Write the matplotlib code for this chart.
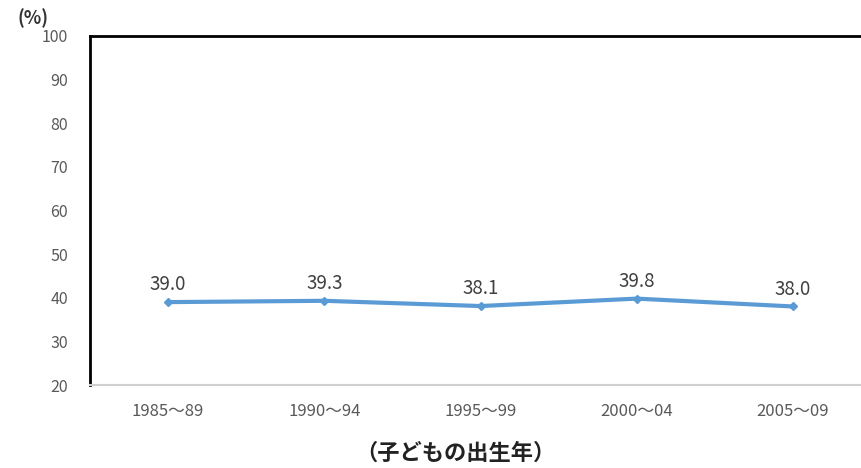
import matplotlib
matplotlib.use("Agg")
import matplotlib.pyplot as plt

plt.rcParams['font.family'] = ['Noto Sans CJK JP', 'DejaVu Sans']

# 子どもの出生年ごとの値（%）
periods = ["1985～89", "1990～94", "1995～99", "2000～04", "2005～09"]
values = [39.0, 39.3, 38.1, 39.8, 38.0]

fig = plt.figure(figsize=(8.61, 4.68), dpi=100)
ax = fig.add_axes([90 / 861, 1 - 385 / 468, 781 / 861, 349 / 468])

x = list(range(len(periods)))
ax.plot(x, values, color='#5B9BD5', linewidth=3, marker='D', markersize=4)

for xi, v in zip(x, values):
    ax.annotate(f"{v:.1f}", (xi, v), xytext=(0, 5), textcoords='offset points',
                ha='center', va='bottom', fontsize=13.5, color='#404040')

ax.set_xlim(-0.5, len(periods) - 0.5)
ax.set_ylim(20, 100)
ax.set_yticks(range(20, 101, 10))
ax.set_xticks(x)
ax.set_xticklabels(periods)
ax.tick_params(axis='y', length=0, labelsize=11.5, colors='#595959', pad=16)
ax.tick_params(axis='x', length=0, labelsize=12, colors='#595959', pad=13)

for side in ['top', 'left']:
    ax.spines[side].set_color('black')
    ax.spines[side].set_linewidth(2)
ax.spines['bottom'].set_color('#d0d0d0')
ax.spines['bottom'].set_linewidth(1.5)
ax.spines['right'].set_visible(False)

fig.text(33 / 861, 1 - 18 / 468, "(%)", fontsize=13, fontweight='bold',
         color='#333333', ha='center', va='center')
fig.text(455 / 861, 1 - 453 / 468, "（子どもの出生年）", fontsize=16,
         fontweight='bold', color='#222222', ha='center', va='center')

plt.savefig("out.png", dpi=100)
plt.close()
